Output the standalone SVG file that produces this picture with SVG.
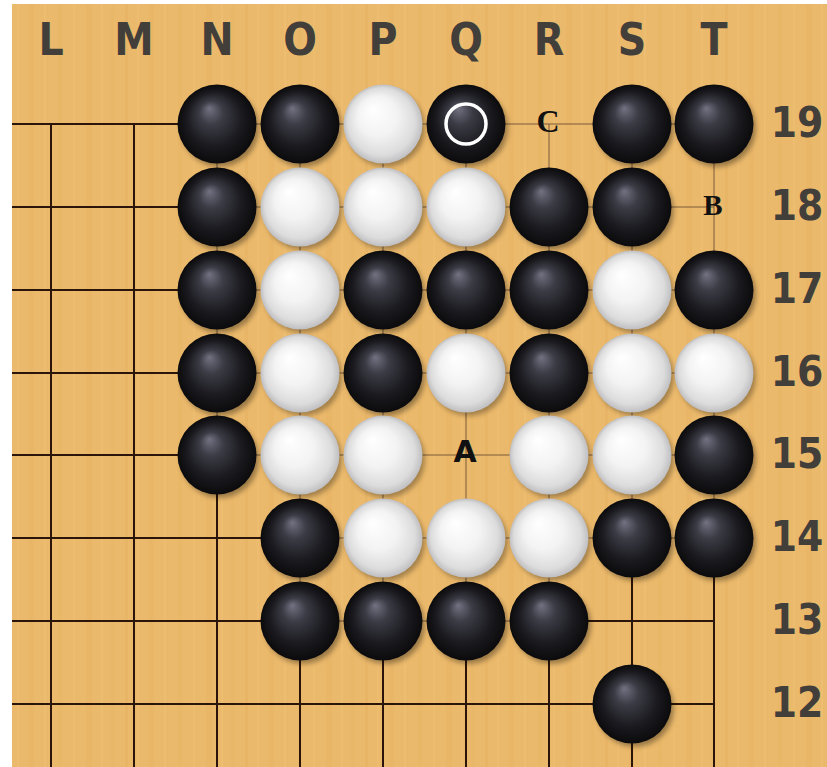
<svg xmlns="http://www.w3.org/2000/svg" width="827" height="767" viewBox="0 0 827 767">
<defs>
<pattern id="wood" patternUnits="userSpaceOnUse" width="120" height="767">
<rect width="120" height="767" fill="#ebb96b"/>
<rect x="5" width="3" height="767" fill="#e6b263" opacity="0.5"/>
<rect x="17" width="2" height="767" fill="#efc077" opacity="0.5"/>
<rect x="29" width="5" height="767" fill="#e5b163" opacity="0.4"/>
<rect x="44" width="2" height="767" fill="#f0c27a" opacity="0.5"/>
<rect x="58" width="4" height="767" fill="#e7b365" opacity="0.4"/>
<rect x="73" width="2" height="767" fill="#eebf74" opacity="0.5"/>
<rect x="86" width="6" height="767" fill="#e6b264" opacity="0.4"/>
<rect x="101" width="2" height="767" fill="#efc178" opacity="0.5"/>
<rect x="111" width="3" height="767" fill="#e7b365" opacity="0.4"/>
</pattern>
<radialGradient id="gb" cx="0.5" cy="0.5" r="0.5" fx="0.4" fy="0.3">
<stop offset="0" stop-color="#727282"/>
<stop offset="0.3" stop-color="#3c3c46"/>
<stop offset="0.68" stop-color="#1b1b20"/>
<stop offset="1" stop-color="#0b0b0d"/>
</radialGradient>
<radialGradient id="gw" cx="0.5" cy="0.5" r="0.5" fx="0.36" fy="0.3">
<stop offset="0" stop-color="#ffffff"/>
<stop offset="0.5" stop-color="#f3f3f3"/>
<stop offset="0.85" stop-color="#dcdcdc"/>
<stop offset="1" stop-color="#bfbfc2"/>
</radialGradient>
<filter id="sh" x="-30%" y="-30%" width="160%" height="160%">
<feGaussianBlur stdDeviation="2.5"/>
</filter>
<symbol id="B" overflow="visible">
<circle cx="3" cy="4" r="39" fill="#000" opacity="0.35" filter="url(#sh)"/>
<circle r="39.5" fill="url(#gb)"/>
</symbol>
<symbol id="W" overflow="visible">
<circle cx="3" cy="4" r="39" fill="#000" opacity="0.3" filter="url(#sh)"/>
<circle r="39.5" fill="url(#gw)"/>
</symbol>
</defs>
<style>
.thin{stroke:#7a5a3a;stroke-width:1;fill:none}
.dark{stroke:#2b1409;stroke-width:2;fill:none}
.coord{font-family:"DejaVu Sans","Liberation Sans",sans-serif;font-weight:bold;font-stretch:condensed;fill:#423e3a;text-anchor:middle}
.top{font-size:44px}
.side{font-size:42px}
.ser{font-family:"Liberation Serif","DejaVu Serif",serif;font-weight:bold;fill:#111;text-anchor:middle}
.san{font-family:"DejaVu Sans","Liberation Sans",sans-serif;font-weight:bold;fill:#111;text-anchor:middle}
</style>
<rect width="827" height="767" fill="#ffffff"/>
<rect x="12" y="4" width="815" height="763" fill="url(#wood)"/>

<g id="coords">
<text class="coord top" x="51" y="55">L</text>
<text class="coord top" x="134" y="55">M</text>
<text class="coord top" x="217" y="55">N</text>
<text class="coord top" x="300" y="55">O</text>
<text class="coord top" x="383" y="55">P</text>
<text class="coord top" x="466" y="55">Q</text>
<text class="coord top" x="549" y="55">R</text>
<text class="coord top" x="632" y="55">S</text>
<text class="coord top" x="714" y="55">T</text>
<text class="coord side" x="797" y="137">19</text>
<text class="coord side" x="797" y="220">18</text>
<text class="coord side" x="797" y="303">17</text>
<text class="coord side" x="797" y="386">16</text>
<text class="coord side" x="797" y="468">15</text>
<text class="coord side" x="797" y="551">14</text>
<text class="coord side" x="797" y="634">13</text>
<text class="coord side" x="797" y="717">12</text>
</g>

<g id="connectors">
<g class="thin">
<path d="M12 124H714M12 207H714M12 290H714M12 373H714M12 455H714M12 538H714M12 621H714M12 704H714"/>
<path d="M51 124V767M134 124V767M217 124V767M300 124V767M383 124V767M466 124V767M549 124V767M632 124V767M714 124V767"/>
</g>
<g class="dark">
<path d="M12 124H217M12 207H217M12 290H217M12 373H217M12 455H217M12 538H300M12 621H300M549 621H714M12 704H714"/>
<path d="M51 124V767M134 124V767M217 455V767M300 621V767M383 621V767M466 621V767M549 621V767M632 538V767M714 538V767"/>
</g>
</g>

<g id="stones">
<use id="N19" href="#B" x="217" y="124"/>
<use id="O19" href="#B" x="300" y="124"/>
<use id="P19" href="#W" x="383" y="124"/>
<use id="Q19" href="#B" x="466" y="124"/>
<use id="S19" href="#B" x="632" y="124"/>
<use id="T19" href="#B" x="714" y="124"/>
<use id="N18" href="#B" x="217" y="207"/>
<use id="O18" href="#W" x="300" y="207"/>
<use id="P18" href="#W" x="383" y="207"/>
<use id="Q18" href="#W" x="466" y="207"/>
<use id="R18" href="#B" x="549" y="207"/>
<use id="S18" href="#B" x="632" y="207"/>
<use id="N17" href="#B" x="217" y="290"/>
<use id="O17" href="#W" x="300" y="290"/>
<use id="P17" href="#B" x="383" y="290"/>
<use id="Q17" href="#B" x="466" y="290"/>
<use id="R17" href="#B" x="549" y="290"/>
<use id="S17" href="#W" x="632" y="290"/>
<use id="T17" href="#B" x="714" y="290"/>
<use id="N16" href="#B" x="217" y="373"/>
<use id="O16" href="#W" x="300" y="373"/>
<use id="P16" href="#B" x="383" y="373"/>
<use id="Q16" href="#W" x="466" y="373"/>
<use id="R16" href="#B" x="549" y="373"/>
<use id="S16" href="#W" x="632" y="373"/>
<use id="T16" href="#W" x="714" y="373"/>
<use id="N15" href="#B" x="217" y="455"/>
<use id="O15" href="#W" x="300" y="455"/>
<use id="P15" href="#W" x="383" y="455"/>
<use id="R15" href="#W" x="549" y="455"/>
<use id="S15" href="#W" x="632" y="455"/>
<use id="T15" href="#B" x="714" y="455"/>
<use id="O14" href="#B" x="300" y="538"/>
<use id="P14" href="#W" x="383" y="538"/>
<use id="Q14" href="#W" x="466" y="538"/>
<use id="R14" href="#W" x="549" y="538"/>
<use id="S14" href="#B" x="632" y="538"/>
<use id="T14" href="#B" x="714" y="538"/>
<use id="O13" href="#B" x="300" y="621"/>
<use id="P13" href="#B" x="383" y="621"/>
<use id="Q13" href="#B" x="466" y="621"/>
<use id="R13" href="#B" x="549" y="621"/>
<use id="S12" href="#B" x="632" y="704"/>
</g>

<g id="marks">
<circle id="lastmove" cx="466" cy="124" r="20" fill="none" stroke="#ffffff" stroke-width="3.5"/>
<text id="labelC" class="ser" x="548" y="132" font-size="32">C</text>
<text id="labelB" class="ser" x="713" y="215" font-size="29">B</text>
<text id="labelA" class="san" x="465" y="462" font-size="30">A</text>
</g>
</svg>
